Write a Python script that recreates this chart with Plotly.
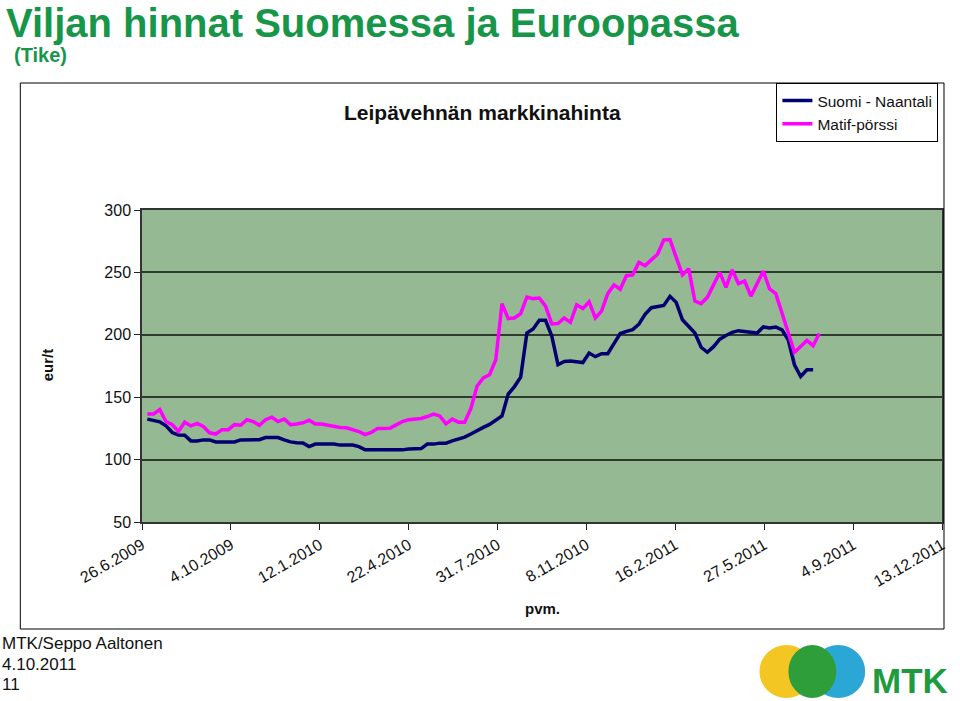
import plotly.graph_objects as go
import pandas as pd

# ---------------- data ----------------
start_date = "2009-07-02"          # first weekly observation
suomi_naantali = [
    132.4, 131.3, 130.3, 127.0, 121.7, 119.8, 119.6, 115.0, 115.0, 115.8,
    115.8, 114.2, 114.2, 114.2, 114.2, 115.8, 116.0, 116.0, 116.0, 117.7,
    118.0, 117.7, 115.8, 114.2, 113.6, 113.4, 110.4, 112.4, 112.4, 112.4,
    112.4, 111.6, 111.6, 111.6, 110.4, 107.8, 107.8, 107.8, 107.8, 107.8,
    107.8, 107.8, 108.5, 108.8, 108.8, 112.4, 112.4, 113.2, 113.2, 115.0,
    116.5, 118.0, 120.5, 123.5, 125.8, 128.2, 131.5, 135.0, 152.5, 158.5,
    166.0, 201.4, 204.6, 211.6, 211.6, 199.0, 176.0, 178.6, 179.0, 178.6,
    177.8, 185.4, 182.5, 184.8, 184.8, 193.0, 201.0, 202.7, 204.1, 208.5,
    216.5, 221.7, 222.3, 223.5, 230.8, 226.0, 212.0, 207.0, 201.5, 190.0,
    186.0, 190.5, 196.5, 199.5, 202.0, 203.3, 202.7, 201.4, 201.4, 206.3,
    205.5, 206.3, 204.0, 196.0, 176.0, 166.6, 172.0, 172.0,
]
matif_porssi = [
    136.5, 136.5, 140.0, 130.5, 128.0, 122.5, 130.0, 127.0, 129.0, 126.5,
    121.5, 120.5, 124.0, 124.0, 128.0, 127.5, 132.0, 130.5, 127.5, 132.0,
    134.0, 130.5, 132.5, 128.0, 128.5, 129.5, 131.5, 128.5, 128.5, 127.5,
    126.5, 125.7, 125.5, 123.8, 122.5, 120.0, 121.7, 125.0, 125.2, 125.2,
    127.8, 130.5, 132.0, 132.5, 133.0, 134.5, 136.4, 135.0, 128.7, 132.4,
    130.0, 130.0, 141.0, 159.0, 165.5, 168.0, 180.0, 225.0, 213.0, 213.5,
    217.0, 230.3, 229.0, 229.5, 223.0, 208.7, 209.0, 213.5, 210.0, 224.0,
    221.0, 226.5, 213.5, 219.0, 233.0, 240.0, 236.5, 247.4, 248.0, 258.0,
    255.5, 260.0, 264.5, 276.0, 276.3, 262.0, 248.0, 253.0, 227.0, 225.0,
    230.0, 240.0, 250.0, 238.0, 252.0, 241.0, 243.0, 231.0, 241.5, 251.0,
    236.7, 233.0, 217.5, 201.4, 186.0, 190.7, 195.5, 191.3, 201.0,
]
tick_dates = ["2009-06-26", "2009-10-04", "2010-01-12", "2010-04-22", "2010-07-31",
              "2010-11-08", "2011-02-16", "2011-05-27", "2011-09-04", "2011-12-13"]
tick_labels = ["26.6.2009", "4.10.2009", "12.1.2010", "22.4.2010", "31.7.2010",
               "8.11.2010", "16.2.2011", "27.5.2011", "4.9.2011", "13.12.2011"]
y_ticks = [50, 100, 150, 200, 250, 300]
series_names = ["Suomi - Naantali", "Matif-pörssi"]

# ---------------- layout geometry (pixels) ----------------
W, H = 960, 701
L, R, T, B = 142, 944, 210, 522


def fx(px):
    return (px - L) / (R - L)


def fy(py):
    return (B - py) / (B - T)


GREEN = "#17964A"
FONT = "Liberation Sans, Arial, sans-serif"

dates_s = pd.date_range(start_date, periods=len(suomi_naantali), freq="7D")
dates_m = pd.date_range(start_date, periods=len(matif_porssi), freq="7D")

fig = go.Figure()
fig.add_trace(go.Scatter(x=dates_s, y=suomi_naantali, mode="lines", name=series_names[0],
                         line=dict(color="#000070", width=3.5)))
fig.add_trace(go.Scatter(x=dates_m, y=matif_porssi, mode="lines", name=series_names[1],
                         line=dict(color="#FF00FF", width=3.5)))

fig.update_layout(
    width=W, height=H,
    margin=dict(l=L, r=W - R, t=T, b=H - B, pad=0),
    paper_bgcolor="white",
    plot_bgcolor="#95B993",
    font=dict(family=FONT, size=16, color="#111111"),
    showlegend=True,
    legend=dict(x=fx(778), y=fy(83), xanchor="left", yanchor="top",
                bgcolor="white", bordercolor="#000000", borderwidth=1,
                font=dict(size=15.5, color="#111111"), tracegroupgap=0,
                itemwidth=30),
)

fig.update_xaxes(
    type="date",
    range=[tick_dates[0], tick_dates[-1]],
    tickmode="array", tickvals=tick_dates, ticktext=tick_labels,
    tickangle=-30, ticks="outside", ticklen=6, tickcolor="#222222",
    showgrid=False, showline=True, linecolor="#333333", linewidth=1.5, mirror=True,
    zeroline=False, tickfont=dict(size=16, color="#111111"),
)
fig.update_yaxes(
    range=[50, 300], tickmode="array", tickvals=y_ticks,
    ticks="outside", ticklen=6, tickcolor="#222222",
    showgrid=True, gridcolor="#2E3B2E", gridwidth=1.5,
    showline=True, linecolor="#333333", linewidth=1.5, mirror=True,
    zeroline=False, tickfont=dict(size=16, color="#111111"),
)

ann = []
ann.append(dict(x=fx(4), y=fy(23.5), xref="paper", yref="paper", xanchor="left", yanchor="middle",
                text="<b>Viljan hinnat Suomessa ja Euroopassa</b>", showarrow=False,
                font=dict(size=40, color=GREEN, family=FONT)))
ann.append(dict(x=fx(12), y=fy(55), xref="paper", yref="paper", xanchor="left", yanchor="middle",
                text="<b>(Tike)</b>", showarrow=False,
                font=dict(size=20, color=GREEN, family=FONT)))
ann.append(dict(x=fx(483), y=fy(112), xref="paper", yref="paper", xanchor="center", yanchor="middle",
                text="<b>Leipävehnän markkinahinta</b>", showarrow=False,
                font=dict(size=21, color="#111111", family=FONT)))
ann.append(dict(x=fx(47), y=fy(365), xref="paper", yref="paper", xanchor="center", yanchor="middle",
                text="<b>eur/t</b>", textangle=-90, showarrow=False,
                font=dict(size=15, color="#111111", family=FONT)))
ann.append(dict(x=fx(543), y=fy(608), xref="paper", yref="paper", xanchor="center", yanchor="middle",
                text="<b>pvm.</b>", showarrow=False,
                font=dict(size=15, color="#111111", family=FONT)))
for txt, yy in [("MTK/Seppo Aaltonen", 643), ("4.10.2011", 664), ("11", 684)]:
    ann.append(dict(x=fx(0), y=fy(yy), xref="paper", yref="paper", xanchor="left", yanchor="middle",
                    text=txt, showarrow=False,
                    font=dict(size=17, color="#111111", family=FONT)))
ann.append(dict(x=fx(872), y=fy(680), xref="paper", yref="paper", xanchor="left", yanchor="middle",
                text="<b>MTK</b>", showarrow=False,
                font=dict(size=35, color="#1E9B3E", family=FONT)))

shapes = []
# outer chart frame
shapes.append(dict(type="rect", xref="paper", yref="paper",
                   x0=fx(20), x1=fx(946), y0=fy(629), y1=fy(83),
                   line=dict(color="#000000", width=1), fillcolor="rgba(0,0,0,0)"))
# logo (approximation)
shapes.append(dict(type="circle", xref="paper", yref="paper",
                   x0=fx(761), x1=fx(815), y0=fy(698), y1=fy(645),
                   line=dict(width=0), fillcolor="#F3C623"))
shapes.append(dict(type="circle", xref="paper", yref="paper",
                   x0=fx(813), x1=fx(867), y0=fy(698), y1=fy(645),
                   line=dict(width=0), fillcolor="#2BA7D6"))
shapes.append(dict(type="circle", xref="paper", yref="paper",
                   x0=fx(790), x1=fx(838), y0=fy(698), y1=fy(645),
                   line=dict(width=0), fillcolor="#2E9E3A"))

fig.update_layout(annotations=ann, shapes=shapes)

fig.write_html("out.html")
